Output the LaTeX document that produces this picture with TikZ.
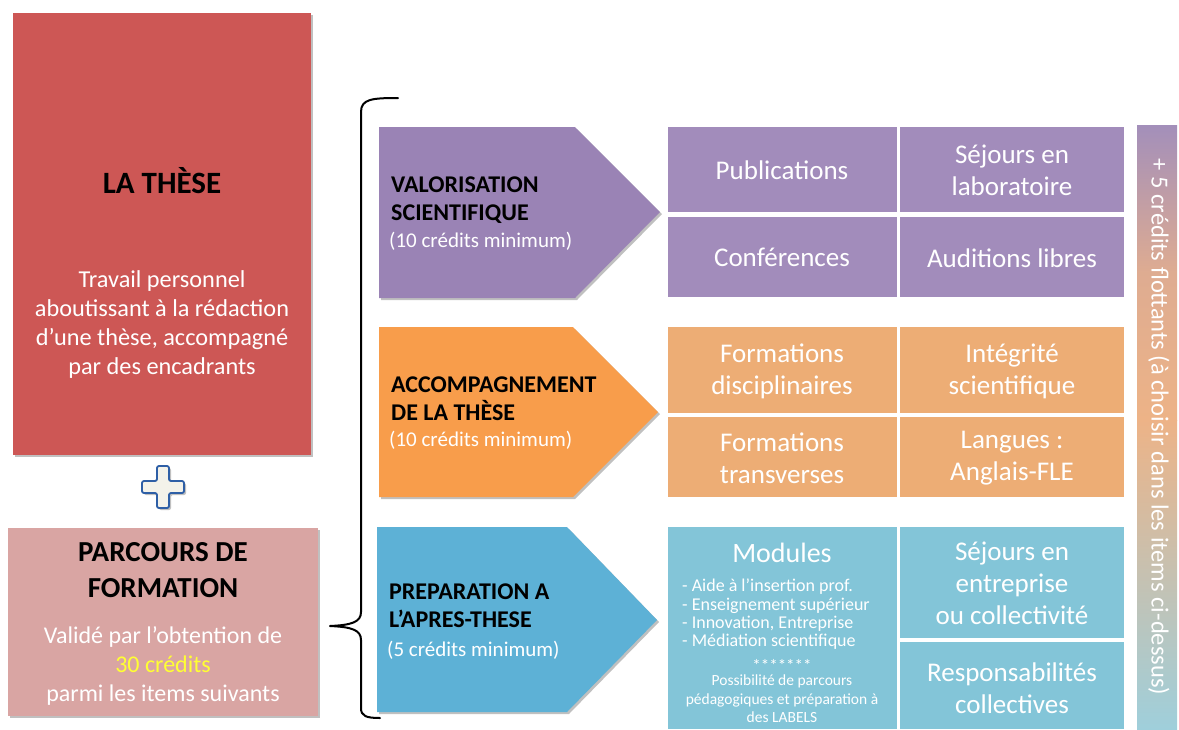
\documentclass[tikz,border=0pt]{standalone}
\usepackage{fontspec}
\setmainfont{Carlito}
\usetikzlibrary{shadows,positioning}
\definecolor{thesered}{HTML}{CD5755}
\definecolor{parcpink}{HTML}{D9A5A3}
\definecolor{purpA}{HTML}{9A83B5}
\definecolor{purpC}{HTML}{A28CBB}
\definecolor{oranA}{HTML}{F89D4B}
\definecolor{oranC}{HTML}{EDAD75}
\definecolor{blueA}{HTML}{5DB1D6}
\definecolor{blueC}{HTML}{83C5D8}
\definecolor{plusfill}{HTML}{F3F2EA}
\definecolor{plusline}{HTML}{2E5FA6}
\definecolor{barTop}{HTML}{A38FBA}
\definecolor{barMid}{HTML}{EDB387}
\definecolor{barBot}{HTML}{9FCFDB}
\definecolor{credyellow}{HTML}{FFFF33}
\tikzset{
  shad/.style={drop shadow={shadow xshift=2pt,shadow yshift=-2pt,opacity=0.35,fill=black!70}},
  celltext/.style={text=white,align=center,inner sep=0pt,font=\fontsize{27}{32}\selectfont},
  arrowtext/.style={anchor=west,align=left,inner sep=0pt,font=\fontsize{24}{28}\selectfont\bfseries},
  subtext/.style={anchor=west,inner sep=0pt,text=white,font=\fontsize{21}{24}\selectfont},
}
\begin{document}
\begin{tikzpicture}[x=1pt,y=-1pt]
\useasboundingbox (0,0) rectangle (1179,729);
\fill[white] (0,0) rectangle (1179,729);

% La these
\fill[thesered,shad] (13,13) rectangle (311,455);
\node[inner sep=0pt,font=\fontsize{31}{34}\selectfont\bfseries] (theseT) at (162,181) {LA THÈSE};
\node[text=white,align=center,inner sep=0pt,font=\fontsize{24.3}{29}\selectfont] (theseB) at (162,325)
  {Travail personnel\\aboutissant à la rédaction\\d’une thèse, accompagné\\par des encadrants};

% plus
\filldraw[fill=plusfill,draw=plusline,line width=1.8pt,rounded corners=2pt,shad]
  (157,466)--(169,466)--(169,481)--(184,481)--(184,493)--(169,493)--(169,508)
  --(157,508)--(157,493)--(142,493)--(142,481)--(157,481)--cycle;

% Parcours
\fill[parcpink,shad] (8,528) rectangle (318,716);
\node[align=center,inner sep=0pt,font=\fontsize{29}{36}\selectfont\bfseries] (parcT) at (163,570) {PARCOURS DE\\FORMATION};
\node[text=white,align=center,inner sep=0pt,font=\fontsize{24}{29}\selectfont] (parcB) at (163,666)
  {Validé par l’obtention de\\\textcolor{credyellow}{30 crédits}\\parmi les items suivants};

% brace
\draw[line width=2pt,line cap=round] (398,98) .. controls (372,98) and (361,99) .. (361,112)
  -- (361,612) .. controls (361,622) and (352,625) .. (330,626)
  (330,626) .. controls (352,627) and (361,630) .. (361,640)
  -- (361,708) .. controls (361,716) and (366,718) .. (380,718);

% arrows
\fill[purpA,shad] (379,127)--(575,127)--(660,212)--(575,298)--(379,298)--cycle;
\node[arrowtext] (valT) at (391,200) {VALORISATION\\SCIENTIFIQUE};
\node[subtext] (valS) at (389,241) {(10 crédits minimum)};

\fill[oranA,shad] (379,327)--(573,327)--(658,412)--(573,497)--(379,497)--cycle;
\node[arrowtext] (accT) at (391,399) {ACCOMPAGNEMENT\\DE LA THÈSE};
\node[subtext] (accS) at (389,440) {(10 crédits minimum)};

\fill[blueA,shad] (377,527)--(567,527)--(657,620)--(567,712)--(377,712)--cycle;
\node[arrowtext] (prepT) at (389,606) {PREPARATION A\\L’APRES-THESE};
\node[subtext] (prepS) at (387,650) {(5 crédits minimum)};

% purple cells
\fill[purpC] (668,127) rectangle (897,212);
\fill[purpC] (900,127) rectangle (1124,212);
\fill[purpC] (668,217) rectangle (897,297);
\fill[purpC] (900,217) rectangle (1124,297);
\node[celltext] (pub) at (782,170) {Publications};
\node[celltext] (sejl) at (1012,170) {Séjours en\\laboratoire};
\node[celltext] (conf) at (782,257) {Conférences};
\node[celltext] (aud) at (1012,258) {Auditions libres};

% orange cells
\fill[oranC] (668,327) rectangle (897,413);
\fill[oranC] (900,327) rectangle (1124,413);
\fill[oranC] (668,417) rectangle (897,497);
\fill[oranC] (900,417) rectangle (1124,497);
\node[celltext] (fdis) at (782,371) {Formations\\disciplinaires};
\node[celltext] (integ) at (1012,371) {Intégrité\\scientifique};
\node[celltext] (ftra) at (782,458) {Formations\\transverses};
\node[celltext] (lang) at (1012,458) {Langues :\\Anglais-FLE};

% blue cells
\fill[blueC] (668,527) rectangle (897,729);
\fill[blueC] (900,527) rectangle (1124,638);
\fill[blueC] (900,642) rectangle (1124,729);
\node[text=white,inner sep=0pt,font=\fontsize{28}{32}\selectfont] (mod) at (782,553) {Modules};
\node[text=white,anchor=north west,align=left,inner sep=0pt,font=\fontsize{18}{18.3}\selectfont] (modL) at (682,579)
  {- Aide à l’insertion prof.\\- Enseignement supérieur\\- Innovation, Entreprise\\- Médiation scientifique};
\node[text=white,inner sep=0pt,font=\fontsize{17}{18}\selectfont] (stars) at (782,665) {*******};
\node[text=white,align=center,inner sep=0pt,font=\fontsize{15.5}{18.5}\selectfont] (poss) at (782,699)
  {Possibilité de parcours\\pédagogiques et préparation à\\des LABELS};
\node[celltext] (seje) at (1012,583) {Séjours en\\entreprise\\ou collectivité};
\node[celltext] (resp) at (1012,688) {Responsabilités\\collectives};

% gradient bar
\shade[top color=barTop,bottom color=barMid,middle color=barMid!80!barTop] (1137,125) rectangle (1177,420);
\shade[top color=barMid,bottom color=barBot] (1137,420) rectangle (1177,729);
\node[rotate=-90,text=white,inner sep=0pt,font=\fontsize{24.5}{28}\selectfont] (flot) at (1159,427)
  {+ 5 crédits flottants (à choisir dans les items ci-dessus)};
\end{tikzpicture}
\end{document}
